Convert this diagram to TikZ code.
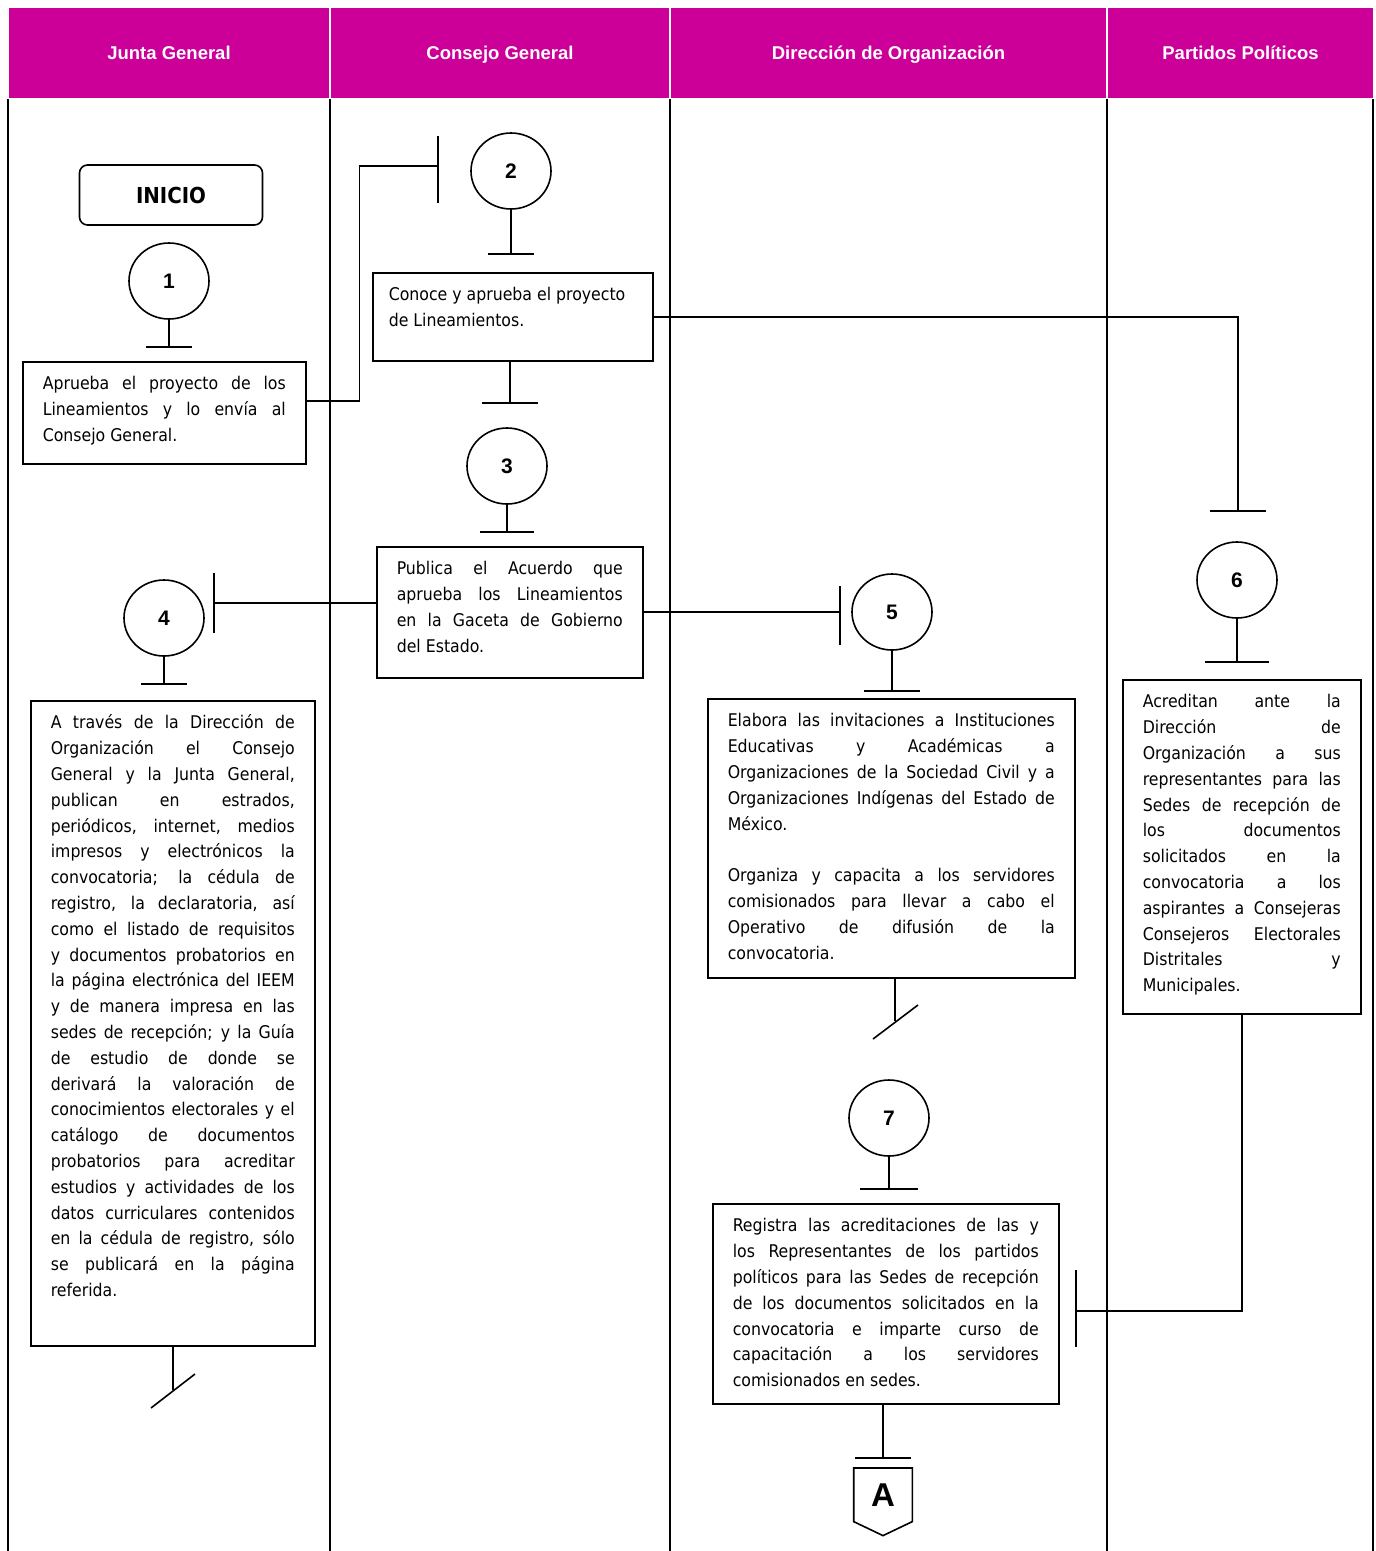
\documentclass[tikz,border=0pt]{standalone}
\usepackage{fontspec}
\setmainfont{DejaVu Sans Condensed}
\newfontfamily\headfont{Liberation Sans}
\usetikzlibrary{shapes,positioning,calc}
\definecolor{lanehead}{RGB}{204,0,153}
\newcommand{\jl}[1]{\makebox[\linewidth][s]{#1}\\}
\newcommand{\tbar}[2]{\draw (#1) ++(-#2,0) -- ++(2*#2,0);}

\begin{document}
\begin{tikzpicture}[x=1pt,y=-1pt,thick,line width=1.6pt]
\tikzstyle{head}=[fill=lanehead,text=white,font=\headfont\bfseries\fontsize{18.5}{22}\selectfont,minimum height=90pt,inner sep=0pt,text height=13.3pt,text depth=0pt]
\tikzstyle{lane}=[line width=2.2pt]
\tikzstyle{proc}=[draw,anchor=north west,inner xsep=20pt,inner ysep=10pt,font=\fontsize{17.5}{25.8}\selectfont]
\tikzstyle{num}=[draw,ellipse,minimum width=80pt,minimum height=76pt,inner sep=0pt,font=\headfont\bfseries\fontsize{21}{24}\selectfont]
\useasboundingbox (0,0) rectangle (1376,1551);

% lanes
\node[head,minimum width=320pt] (hJG) at (169,53) {Junta General};
\node[head,minimum width=338pt] (hCG) at (500,53) {Consejo General};
\node[head,minimum width=435pt] (hDO) at (888.5,53) {Dirección de Organización};
\node[head,minimum width=265pt] (hPP) at (1240.5,53) {Partidos Políticos};
\draw[lane] (hJG.south west) -- ++(0,1453);
\draw[lane] (hJG.south east) -- ++(0,1453);
\draw[lane] (hCG.south east) -- ++(0,1453);
\draw[lane] (hDO.south east) -- ++(0,1453);
\draw[lane] ([xshift=-1pt]hPP.south east) -- ++(0,1453);

% steps
\node[draw,rounded corners=8pt,minimum width=183pt,minimum height=60pt,font=\bfseries\fontsize{22}{24}\selectfont] (ini) at (171,195) {INICIO};
\node[num] (c1) at (169,281) {1};
\node[num] (c2) at (511,171) {2};
\node[num] (c3) at (507,466) {3};
\node[num] (c4) at (164,618) {4};
\node[num] (c5) at (892,612) {5};
\node[num] (c6) at (1237,580) {6};
\node[num] (c7) at (889,1118) {7};

\node[proc] (b1) at (22,361) {\parbox[t][82pt][t]{243pt}{\strut
\jl{Aprueba el proyecto de los}
\jl{Lineamientos y lo envía al}
Consejo General.}};
\node[proc,inner xsep=16pt] (b2) at (372,272) {\parbox[t][68pt][t]{248pt}{\strut
\mbox{Conoce y aprueba el proyecto}\\
de Lineamientos.}};
\node[proc] (b3) at (376,546) {\parbox[t][111pt][t]{226pt}{\strut
\jl{Publica el Acuerdo que}
\jl{aprueba los Lineamientos}
\jl{en la Gaceta de Gobierno}
del Estado.}};
\node[proc] (b4) at (30,700) {\parbox[t][625pt][t]{244pt}{\strut
\jl{A través de la Dirección de}
\jl{Organización el Consejo}
\jl{General y la Junta General,}
\jl{publican en estrados,}
\jl{periódicos, internet, medios}
\jl{impresos y electrónicos la}
\jl{convocatoria; la cédula de}
\jl{registro, la declaratoria, así}
\jl{como el listado de requisitos}
\jl{y documentos probatorios en}
\jl{la página electrónica del IEEM}
\jl{y de manera impresa en las}
\jl{sedes de recepción; y la Guía}
\jl{de estudio de donde se}
\jl{derivará la valoración de}
\jl{conocimientos electorales y el}
\jl{catálogo de documentos}
\jl{probatorios para acreditar}
\jl{estudios y actividades de los}
\jl{datos curriculares contenidos}
\jl{en la cédula de registro, sólo}
\jl{se publicará en la página}
referida.}};
\node[proc] (b5) at (707,698) {\parbox[t][259pt][t]{327pt}{\strut
\jl{Elabora las invitaciones a Instituciones}
\jl{Educativas y Académicas a}
\jl{Organizaciones de la Sociedad Civil y a}
\jl{Organizaciones Indígenas del Estado de}
México.\\[25.8pt]
\jl{Organiza y capacita a los servidores}
\jl{comisionados para llevar a cabo el}
\jl{Operativo de difusión de la}
convocatoria.}};
\node[proc] (b6) at (1122,679) {\parbox[t][314pt][t]{198pt}{\strut
\jl{Acreditan ante la}
\jl{Dirección de}
\jl{Organización a sus}
\jl{representantes para las}
\jl{Sedes de recepción de}
\jl{los documentos}
\jl{solicitados en la}
\jl{convocatoria a los}
\jl{aspirantes a Consejeras}
\jl{Consejeros Electorales}
\jl{Distritales y}
Municipales.}};
\node[proc] (b7) at (712,1203) {\parbox[t][180pt][t]{306pt}{\strut
\jl{Registra las acreditaciones de las y}
\jl{los Representantes de los partidos}
\jl{políticos para las Sedes de recepción}
\jl{de los documentos solicitados en la}
\jl{convocatoria e imparte curso de}
\jl{capacitación a los servidores}
comisionados en sedes.}};
\node[minimum width=57pt,minimum height=52pt,inner sep=0pt,anchor=north,font=\headfont\bfseries\fontsize{33}{36}\selectfont] (offA) at (883,1468) {A};
\draw (offA.north west) -- (offA.north east) -- (offA.south east) -- ([yshift=-14pt]offA.south) -- (offA.south west) -- cycle;

% connectors
\coordinate (t1) at (169,347);
\coordinate (t2) at (438,166);
\coordinate (t3) at (511,254);
\coordinate (t4) at (510,403);
\coordinate (t5) at (507,532);
\coordinate (t6) at (214,603);
\coordinate (t7) at (840,612);
\coordinate (t8) at (1238,511);
\coordinate (t9) at (164,684);
\coordinate (t10) at (892,691);
\coordinate (t11) at (1237,662);
\coordinate (t12) at (889,1189);
\coordinate (t13) at (1076,1311);
\coordinate (t14) at (883,1458);
\coordinate (s1) at (173,1390);
\coordinate (s2) at (895,1021);

\draw (c1.south) -- (t1); \tbar{t1}{23}
\draw ([yshift=12pt]b1.east) -- ++(53,0) |- (t2);
\draw (t2) ++(0,-30) -- ++(0,67);
\draw (c2.south) -- (t3); \tbar{t3}{23}
\draw (b2.south -| t4) -- (t4); \tbar{t4}{28}
\draw (c3.south) -- (t5); \tbar{t5}{27}
\draw (b3.west |- t6) -- (t6);
\draw (t6) ++(0,-30) -- ++(0,60);
\draw (b3.east |- t7) -- (t7);
\draw (t7) ++(0,-26) -- ++(0,59);
\draw (b2.east) -| (t8); \tbar{t8}{28}
\draw (c4.south) -- (t9); \tbar{t9}{23}
\draw (c5.south) -- (t10); \tbar{t10}{28}
\draw (c6.south) -- (t11); \tbar{t11}{32}
\draw (b4.south -| s1) -- (s1);
\draw (s1) ++(-22,18) -- ++(44,-34);
\draw (b5.south -| s2) -- (s2);
\draw (s2) ++(-22,18) -- ++(45,-34);
\draw (c7.south) -- (t12); \tbar{t12}{29}
\draw (b6.south) |- (t13);
\draw (t13) ++(0,-41) -- ++(0,77);
\draw (b7.south -| t14) -- (t14); \tbar{t14}{28}
\end{tikzpicture}
\end{document}
